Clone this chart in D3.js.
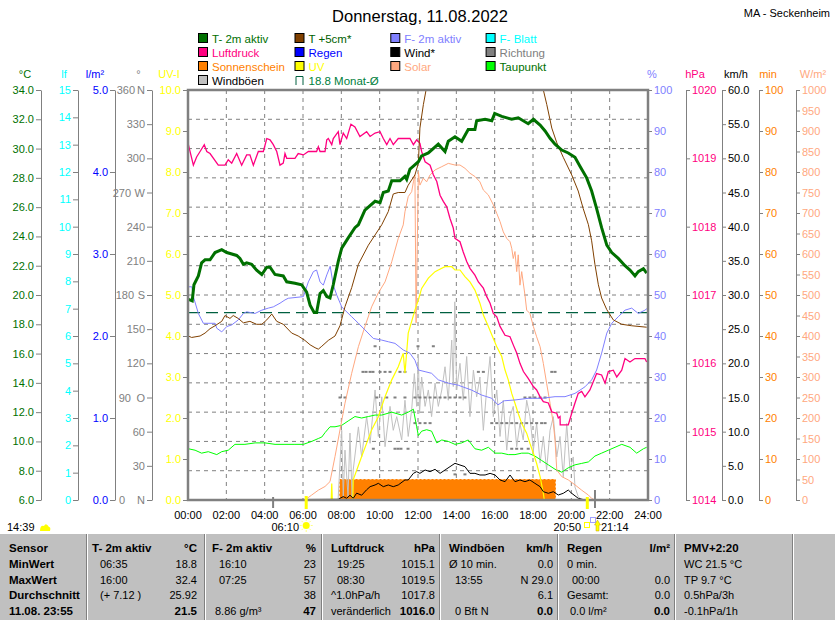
<!DOCTYPE html>
<html><head><meta charset="utf-8">
<script src="https://cdn.jsdelivr.net/npm/d3@7"></script>
<style>
body{margin:0;background:#fff;}
svg{display:block;font-family:"Liberation Sans",Arial,sans-serif;}
</style></head><body>
<svg id="c" width="835" height="620"></svg>
<script>
// ---------------- DATA (time in hours, value in axis units) ----------------
const hourTicks = [0,2,4,6,8,10,12,14,16,18,20,22,24];
const monthMean = 18.8;

const t2m = [[0.02,19.7],[0.22,19.6],[0.31,20.7],[0.54,21.3],[0.71,22.2],[0.89,22.4],[1.15,22.4],[1.41,22.9],[1.76,23.1],[2.02,22.9],[2.54,22.7],[2.71,22.5],[2.89,22.1],[3.06,22.2],[3.32,22.1],[3.58,21.7],[3.85,21.4],[4.11,21.9],[4.28,21.9],[4.54,21.4],[4.97,21.3],[5.15,20.9],[5.58,20.8],[5.93,20.7],[6.19,20.2],[6.37,19.3],[6.58,18.8],[6.71,18.8],[6.89,20.1],[7.06,20.3],[7.24,19.9],[7.41,19.8],[7.58,20.7],[7.84,22.3],[8.02,23.2],[8.36,23.9],[8.71,24.6],[8.89,24.8],[9.23,25.8],[9.76,26.4],[10.02,26.3],[10.19,27.0],[10.45,27.1],[10.63,27.8],[11.06,27.8],[11.32,28.1],[11.41,27.9],[11.58,28.6],[11.76,28.8],[12.02,29.1],[12.19,29.5],[12.54,29.7],[13.06,30.3],[13.41,29.8],[13.58,30.5],[13.93,30.8],[14.28,30.5],[14.62,31.3],[14.97,31.3],[15.06,31.9],[15.5,32.0],[15.85,31.9],[16.0,32.4],[16.37,32.2],[16.89,32.0],[17.23,32.1],[17.75,31.7],[18.02,32.0],[18.37,31.6],[18.63,31.2],[18.89,30.7],[19.15,30.3],[19.5,29.9],[19.84,29.7],[20.19,29.4],[20.45,28.8],[20.8,28.0],[21.06,27.1],[21.32,25.9],[21.58,24.6],[21.85,23.4],[22.11,22.9],[22.45,22.5],[22.8,22.0],[23.06,21.7],[23.32,21.3],[23.49,21.6],[23.76,21.8],[23.93,21.5]];

const t5cm = [[0.02,17.2],[0.19,17.1],[0.63,17.2],[0.89,17.4],[1.15,17.7],[1.41,17.9],[1.76,18.2],[1.93,18.6],[2.19,18.4],[2.36,18.6],[2.62,18.4],[2.89,18.1],[3.23,18.2],[3.58,18.0],[3.85,18.0],[4.11,18.3],[4.37,18.7],[4.63,18.2],[4.97,18.0],[5.41,17.4],[5.75,17.2],[6.1,16.9],[6.37,16.6],[6.63,16.4],[6.8,16.3],[6.98,16.5],[7.32,16.9],[7.67,17.2],[7.93,17.9],[8.19,19.2],[8.54,20.5],[8.89,22.1],[9.41,23.4],[9.76,24.1],[10.11,24.8],[10.45,25.7],[10.71,26.9],[10.97,27.0],[11.32,27.0],[11.49,27.5],[11.84,28.2],[12.02,29.0],[12.1,31.4],[12.28,33.0],[12.42,34.0],[13.0,37.5],[15.0,40.5],[17.0,39.0],[18.54,34.0],[18.72,33.0],[18.98,31.4],[19.24,30.4],[19.58,29.4],[20.02,28.2],[20.36,27.1],[20.62,25.9],[20.89,24.8],[21.06,23.7],[21.23,22.1],[21.41,20.7],[21.58,19.8],[21.85,19.0],[22.19,18.3],[22.63,18.0],[23.15,17.9],[23.93,17.8]];

const humidity = [[0.02,52.0],[0.2,52.0],[0.28,49.6],[0.54,45.5],[0.8,43.1],[1.41,43.1],[1.5,41.9],[1.76,41.0],[2.02,42.3],[2.28,42.7],[2.62,43.9],[2.89,45.5],[3.06,45.9],[3.5,45.5],[3.85,46.3],[4.19,46.8],[4.45,47.1],[4.8,48.0],[5.06,48.8],[5.23,49.2],[6.02,49.6],[6.28,53.2],[6.54,55.7],[6.71,56.1],[6.89,53.2],[7.06,52.4],[7.24,54.9],[7.42,57.0],[7.58,52.4],[7.76,50.0],[8.02,47.1],[8.19,46.3],[8.54,44.7],[8.89,43.1],[9.23,41.5],[9.67,39.4],[10.11,39.0],[10.45,38.6],[10.8,38.2],[11.23,36.6],[11.58,35.8],[11.84,34.1],[12.02,31.7],[12.37,31.3],[12.71,30.9],[13.06,29.3],[13.58,28.5],[14.1,28.0],[14.8,26.8],[15.32,25.6],[15.85,24.8],[16.17,23.2],[16.5,24.2],[17.06,24.4],[17.75,24.8],[18.45,24.8],[19.15,25.2],[19.67,25.2],[20.19,26.0],[20.71,27.6],[21.06,29.3],[21.32,31.7],[21.58,35.8],[21.85,40.7],[22.11,43.1],[22.45,44.7],[22.8,46.3],[23.15,46.8],[23.49,45.5],[23.84,46.3],[23.98,46.8]];

const pressure = [[0.02,1019.20],[0.28,1018.90],[0.45,1019.02],[0.63,1019.10],[0.85,1019.20],[0.98,1019.10],[1.15,1019.07],[1.58,1018.90],[1.93,1018.90],[2.1,1018.98],[2.28,1018.93],[2.54,1019.07],[2.8,1018.90],[3.06,1019.05],[3.23,1019.05],[3.41,1018.90],[3.67,1019.10],[3.93,1019.10],[4.11,1019.29],[4.28,1019.27],[4.45,1019.20],[4.63,1019.10],[4.8,1018.90],[4.97,1018.93],[5.06,1019.07],[5.15,1019.00],[5.58,1019.00],[5.75,1019.07],[6.02,1019.05],[6.28,1019.10],[6.71,1019.10],[6.8,1019.17],[6.89,1019.10],[7.15,1019.10],[7.24,1019.27],[7.32,1019.29],[7.5,1019.20],[7.58,1019.29],[7.84,1019.39],[7.93,1019.20],[8.1,1019.37],[8.28,1019.29],[8.5,1019.50],[8.71,1019.46],[8.97,1019.32],[9.32,1019.39],[9.5,1019.32],[9.76,1019.37],[10.02,1019.39],[10.19,1019.29],[10.37,1019.20],[10.54,1019.29],[10.71,1019.20],[10.97,1019.29],[11.58,1019.29],[11.76,1019.20],[11.93,1019.27],[12.1,1019.22],[12.19,1019.10],[12.37,1018.95],[12.63,1018.90],[12.8,1018.76],[12.98,1018.66],[13.15,1018.46],[13.32,1018.37],[13.5,1018.29],[13.67,1018.12],[13.84,1017.98],[13.93,1017.83],[14.19,1017.78],[14.36,1017.63],[14.54,1017.49],[14.71,1017.39],[14.97,1017.29],[15.15,1017.19],[15.41,1017.10],[15.58,1016.98],[15.76,1016.88],[15.93,1016.73],[16.11,1016.68],[16.28,1016.54],[16.54,1016.41],[16.8,1016.39],[16.97,1016.27],[17.15,1016.15],[17.32,1016.00],[17.5,1015.88],[17.75,1015.78],[18.02,1015.66],[18.19,1015.61],[18.37,1015.51],[18.54,1015.44],[18.8,1015.42],[18.98,1015.29],[19.24,1015.27],[19.32,1015.20],[19.41,1015.22],[19.42,1015.10],[19.84,1015.10],[20.02,1015.27],[20.19,1015.42],[20.36,1015.56],[20.54,1015.59],[20.71,1015.51],[20.97,1015.61],[21.32,1015.85],[21.58,1015.83],[21.76,1015.71],[21.93,1015.88],[22.19,1015.90],[22.37,1015.80],[22.63,1015.90],[22.8,1016.07],[23.06,1016.02],[23.32,1016.07],[23.84,1016.07],[23.93,1016.02]];

const dewpoint = [[0.02,9.5],[0.37,9.4],[0.71,9.2],[1.06,9.3],[1.5,9.1],[1.76,9.3],[2.1,9.4],[2.45,9.8],[2.97,9.8],[3.5,9.9],[4.02,9.9],[4.54,9.8],[5.06,9.8],[5.58,9.8],[6.02,9.8],[6.45,10.0],[6.8,10.2],[6.98,10.3],[7.15,10.6],[7.41,11.0],[7.67,11.0],[8.02,11.1],[8.36,11.4],[8.71,11.7],[9.06,11.6],[9.41,11.7],[9.76,11.8],[10.11,11.8],[10.63,12.0],[11.15,11.8],[11.49,12.0],[11.76,12.2],[11.93,11.0],[12.02,10.4],[12.19,10.7],[12.45,10.8],[12.71,10.7],[12.98,9.9],[13.24,10.1],[13.58,10.0],[13.93,9.8],[14.28,9.9],[14.62,10.1],[14.97,9.5],[15.32,9.4],[15.67,9.6],[16.02,9.2],[16.37,9.2],[16.71,9.1],[17.06,9.1],[17.41,9.2],[17.75,9.2],[18.1,9.0],[18.45,8.7],[18.8,8.4],[19.15,8.1],[19.5,7.9],[19.84,8.2],[20.19,8.4],[20.54,8.5],[20.89,8.6],[21.23,9.0],[21.58,9.2],[21.93,9.4],[22.28,9.6],[22.63,9.8],[23.06,9.6],[23.41,9.2],[23.76,9.5],[23.93,9.6]];

const solar = [[0,0],[6.1,0],[6.45,12],[6.8,24],[7.15,33],[7.41,45],[7.67,106],[7.93,171],[8.19,236],[8.54,309],[8.89,374],[9.23,423],[9.58,471],[9.93,505],[10.28,532],[10.63,581],[10.97,638],[11.23,671],[11.32,703],[11.49,740],[11.67,752],[11.76,776],[11.84,793],[11.9,432],[12.02,801],[12.1,768],[12.28,785],[12.45,776],[12.63,793],[12.89,805],[13.24,813],[13.58,821],[13.93,817],[14.19,817],[14.45,809],[14.71,797],[14.97,789],[15.23,776],[15.41,756],[15.67,744],[15.93,720],[16.11,699],[16.28,679],[16.45,654],[16.63,638],[16.8,630],[16.89,614],[16.97,589],[17.06,606],[17.15,557],[17.23,598],[17.32,524],[17.41,557],[17.58,500],[17.67,463],[17.84,455],[18.02,423],[18.19,398],[18.37,374],[18.54,333],[18.71,285],[18.89,236],[19.06,187],[19.15,146],[19.24,73],[19.5,57],[19.84,49],[20.19,37],[20.54,24],[20.89,12],[21.06,4],[21.23,0],[24,0]];

const uv = [[0,0],[7.47,0],[7.5,0.4],[7.53,0],[8.6,0],[8.62,0.49],[9.06,1.06],[9.58,1.71],[9.93,2.03],[10.28,2.52],[10.63,2.93],[10.97,3.25],[11.23,3.58],[11.32,3.09],[11.49,4.07],[11.84,4.63],[12.02,4.88],[12.19,5.16],[12.54,5.41],[12.89,5.57],[13.06,5.61],[13.41,5.69],[13.76,5.69],[13.93,5.61],[14.19,5.61],[14.45,5.45],[14.71,5.32],[14.97,5.12],[15.23,4.8],[15.41,4.51],[15.67,4.23],[15.93,3.94],[16.11,3.74],[16.37,3.5],[16.54,3.17],[16.71,2.93],[16.89,2.6],[17.06,2.36],[17.23,2.11],[17.41,1.87],[17.67,1.63],[17.84,1.38],[18.02,1.14],[18.19,0.89],[18.37,0.57],[18.54,0.16],[18.59,0],[24,0]];

const sunshine = [[0,0],[7.92,0],[7.92,5],[19.17,5],[19.17,0],[24,0]]; // minutes per 5 min

const wind = [[0,0],[7.84,0.1],[8.1,0.5],[8.28,0.25],[8.45,0.7],[8.62,0.25],[8.8,1.0],[9.06,0.7],[9.32,1.5],[9.5,1.95],[9.76,2.2],[9.93,2.44],[10.19,1.95],[10.45,2.2],[10.71,1.95],[10.97,2.2],[11.32,2.93],[11.49,2.93],[11.76,3.9],[11.93,4.15],[12.1,3.9],[12.37,4.39],[12.63,4.15],[12.89,4.49],[13.15,3.9],[13.41,4.39],[13.67,4.88],[13.93,5.37],[14.19,5.12],[14.45,4.88],[14.71,3.9],[14.97,3.9],[15.23,3.66],[15.5,3.66],[15.76,3.9],[16.02,3.66],[16.28,2.93],[16.54,2.68],[16.8,3.66],[17.06,2.68],[17.32,2.93],[17.58,2.68],[17.84,2.93],[18.1,2.44],[18.37,1.95],[18.54,1.22],[18.8,0.98],[19.06,1.22],[19.32,0.73],[19.58,0.98],[19.84,1.46],[20.02,0.98],[20.36,0.25],[20.71,0],[24,0]];

const gusts = [[7.83,0],[8.02,10.2],[8.1,0.5],[8.19,7.3],[8.35,0.5],[8.45,9.8],[8.56,0.5],[8.62,4.4],[8.89,10.7],[9.06,6.3],[9.32,12.2],[9.5,8.3],[9.76,16.1],[9.93,9.3],[10.11,15.1],[10.28,7.8],[10.54,13.7],[10.71,10.2],[10.89,12.2],[11.15,8.8],[11.32,14.6],[11.49,9.3],[11.67,13.2],[11.81,18.5],[11.93,13.7],[12.02,21.0],[12.08,12.7],[12.19,18.0],[12.37,13.7],[12.54,16.1],[12.71,12.2],[12.89,17.1],[13.06,13.7],[13.24,16.1],[13.41,19.5],[13.58,14.6],[13.76,23.4],[13.84,16.6],[13.92,29.0],[14.02,16.1],[14.19,20.0],[14.36,14.6],[14.54,21.0],[14.71,12.2],[14.89,19.0],[15.06,15.1],[15.23,18.0],[15.41,10.2],[15.58,16.1],[15.76,21.0],[15.93,12.2],[16.11,16.1],[16.28,9.3],[16.45,14.6],[16.63,7.3],[16.8,12.2],[16.97,13.7],[17.15,7.8],[17.32,11.2],[17.49,8.8],[17.67,14.6],[17.84,12.2],[18.02,7.3],[18.19,11.2],[18.37,5.4],[18.54,9.3],[18.71,4.4],[18.89,10.2],[19.06,12.2],[19.24,6.3],[19.41,9.3],[19.58,3.4],[19.76,11.2],[19.93,4.4],[20.1,6.3],[20.19,1.9],[20.36,0.5],[20.54,0]];

const direction = [[7.93,90],[8.19,90],[9.85,90],[10.37,90],[10.8,90],[11.32,90],[11.84,90],[12.1,90],[12.37,90],[12.63,90],[12.89,90],[13.15,90],[13.41,90],[13.67,90],[13.93,90],[14.19,90],[14.45,90],[17.58,90],[17.84,90],[18.1,90],[18.37,90],[18.63,90],
 [9.13,112.5],[9.29,112.5],[9.5,112.5],[9.65,112.5],[10.02,112.5],[10.28,112.5],[10.54,112.5],[11.06,112.5],[11.32,112.5],[15.15,112.5],[15.41,112.5],[18.98,112.5],[19.15,112.5],
 [9.67,45],[10.8,45],[10.96,45],[11.11,45],[11.48,45],[16.89,45],[17.15,45],[17.41,45],[17.75,45],
 [9.76,135],[12.0,135],[12.8,135],
 [11.84,67.5],[12.1,67.5],[12.37,67.5],[12.63,67.5],[15.85,67.5],[16.11,67.5],[16.37,67.5],[16.63,67.5],[16.89,67.5],[17.15,67.5],[17.41,67.5],[17.67,67.5],[17.93,67.5],[18.19,67.5],[18.45,67.5],[18.63,67.5],
 [13.93,22.5],[14.45,22.5]];

const legendItems = [
 {name:"T- 2m aktiv", box:"#007000", text:"#007000", col:0,row:0},
 {name:"T +5cm*", box:"#804000", text:"#006000", col:1,row:0},
 {name:"F- 2m aktiv", box:"#8080ff", text:"#8080ff", col:2,row:0},
 {name:"F- Blatt", box:"#00ffff", text:"#00ffff", col:3,row:0},
 {name:"Luftdruck", box:"#ff0080", text:"#ff0080", col:0,row:1},
 {name:"Regen", box:"#0000ff", text:"#0000ff", col:1,row:1},
 {name:"Wind*", box:"#000000", text:"#000000", col:2,row:1},
 {name:"Richtung", box:"#808080", text:"#808080", col:3,row:1},
 {name:"Sonnenschein", box:"#ff8000", text:"#ff8000", col:0,row:2},
 {name:"UV", box:"#ffff00", text:"#ffff00", col:1,row:2},
 {name:"Solar", box:"#ffa880", text:"#ffa880", col:2,row:2},
 {name:"Taupunkt", box:"#00ff00", text:"#007000", col:3,row:2},
 {name:"Windböen", box:"#c0c0c0", text:"#000000", col:0,row:3},
 {name:"18.8 Monat-Ø", box:null, text:"#008040", col:1,row:3}
];

const tableHeaders = ["Sensor","T- 2m aktiv","F- 2m aktiv","Luftdruck","Windböen","Regen","PMV+2:20"];
const tableUnits = ["°C","%","hPa","km/h","l/m²"];
const rowLabels = ["MinWert","MaxWert","Durchschnitt","11.08. 23:55"];
const tableLeftText = [
 ["06:35","16:10","19:25","Ø 10 min.","0 min.","WC 21.5 °C"],
 ["16:00","07:25","08:30","13:55","00:00","TP 9.7 °C"],
 ["(+ 7.12 )","","^1.0hPa/h","","Gesamt:","0.5hPa/3h"],
 ["","8.86 g/m³","veränderlich","0 Bft N","0.0 l/m²","-0.1hPa/1h"]];
const tableValues = [
 ["18.8","23","1015.1","0.0",""],
 ["32.4","57","1019.5","N 29.0","0.0"],
 ["25.92","38","1017.8","6.1","0.0"],
 ["21.5","47","1016.0","0.0","0.0"]];

// ---------------- LAYOUT ----------------
const svg = d3.select("#c");
const L=188,R=648,T=90,B=500;
const FONT='"Liberation Sans",Arial,sans-serif';
const x = d3.scaleLinear().domain([0,24]).range([L,R]);
const yT = d3.scaleLinear().domain([6,34]).range([B,T]);
const yLf = d3.scaleLinear().domain([0,15]).range([B,T]);
const yRain = d3.scaleLinear().domain([0,5]).range([B,T]);
const yDir = d3.scaleLinear().domain([0,360]).range([B,T]);
const yUV = d3.scaleLinear().domain([0,10]).range([B,T]);
const yHum = d3.scaleLinear().domain([0,100]).range([B,T]);
const yP = d3.scaleLinear().domain([1014,1020]).range([B,T]);
const yW = d3.scaleLinear().domain([0,60]).range([B,T]);
const yMin = d3.scaleLinear().domain([0,100]).range([B,T]);
const ySol = d3.scaleLinear().domain([0,1000]).range([B,T]);

const f1 = d3.format(".1f"), f0 = d=>String(d);

// title
svg.append("text").attr("x",420).attr("y",22).attr("text-anchor","middle")
 .attr("font-size",16.5).attr("font-family",FONT).text("Donnerstag, 11.08.2022");
svg.append("text").attr("x",830).attr("y",17).attr("text-anchor","end")
 .attr("font-size",11).attr("font-family",FONT).text("MA - Seckenheim");

// legend
const legX=[198,294.5,390.3,485.6], legY=[33,47,61,75];
legendItems.forEach(d=>{
  const bx=legX[d.col], by=legY[d.row];
  if(d.box){
    svg.append("rect").attr("x",bx+0.5).attr("y",by+0.5).attr("width",9).attr("height",9)
      .attr("fill",d.box).attr("stroke","#000").attr("stroke-width",1);
  } else {
    svg.append("path").attr("d",`M${bx+1.5},${by+10}V${by+1.5}H${bx+8.5}V${by+10}`)
      .attr("fill","none").attr("stroke","#006040").attr("stroke-width",1);
  }
  svg.append("text").attr("x",bx+14).attr("y",by+9.5).attr("font-size",11.5)
    .attr("font-family",FONT).attr("fill",d.text).text(d.name);
});

// grid
const grid = svg.append("g").attr("stroke","#808080").attr("stroke-dasharray","4,4").attr("stroke-width",1);
hourTicks.slice(1,-1).forEach(h=>grid.append("line").attr("x1",x(h)).attr("x2",x(h)).attr("y1",T).attr("y2",B));
d3.range(8,34,2).forEach(v=>grid.append("line").attr("x1",L).attr("x2",R).attr("y1",yT(v)).attr("y2",yT(v)));

// axes
function styleAxis(g,color){
  g.attr("font-size",11).attr("font-family",FONT);
  g.selectAll("path").attr("stroke","#808080");
  g.selectAll("line").attr("stroke","#808080");
  g.selectAll("text").attr("fill",color);
}
const leftAxes = [
 {pos:41, s:yT, ticks:d3.range(6,34.1,2), fmt:f1, color:"#007000", title:"°C", tx:25},
 {pos:78, s:yLf, ticks:d3.range(0,16,1), fmt:f0, color:"#00ffff", title:"lf", tx:64},
 {pos:115, s:yRain, ticks:d3.range(0,6,1), fmt:f1, color:"#0000ff", title:"l/m²", tx:95},
 {pos:152, s:yDir, ticks:d3.range(0,361,30), fmt:f0, color:"#808080", title:"°", tx:138.5, dir:true},
 {pos:188, s:yUV, ticks:d3.range(0,11,1), fmt:f1, color:"#ffff00", title:"UV-I", tx:169}
];
const compass = {0:"N",90:"O",180:"S",270:"W",360:"N"};
const compassNumEnd = {0:-27,90:-21,180:-18,270:-21,360:-17};
leftAxes.forEach(a=>{
  const g = svg.append("g").attr("transform",`translate(${a.pos},0)`)
   .call(d3.axisLeft(a.s).tickValues(a.ticks).tickFormat(a.fmt).tickSize(5).tickSizeOuter(0).tickPadding(2));
  styleAxis(g,a.color);
  if(a.dir){
    g.selectAll(".tick").each(function(d){
      if(compass[d]!==undefined){
        const t=d3.select(this).select("text");
        t.text(compass[d]);
        d3.select(this).append("text").attr("x",compassNumEnd[d]).attr("dy","0.32em").attr("text-anchor","end")
          .attr("fill",a.color).text(d);
      }
    });
  }
  svg.append("text").attr("x",a.tx).attr("y",78).attr("text-anchor","middle").attr("font-size",11)
   .attr("font-family",FONT).attr("fill",a.color).text(a.title);
});
const rightAxes = [
 {pos:648, s:yHum, ticks:d3.range(0,101,10), fmt:f0, color:"#8080ff", title:"%", tx:652},
 {pos:686, s:yP, ticks:d3.range(1014,1021,1), fmt:f0, color:"#ff0080", title:"hPa", tx:695},
 {pos:722, s:yW, ticks:d3.range(0,61,5), fmt:f1, color:"#000000", title:"km/h", tx:736},
 {pos:759, s:yMin, ticks:d3.range(0,101,10), fmt:f0, color:"#ff8000", title:"min", tx:768},
 {pos:796, s:ySol, ticks:d3.range(0,1001,50), fmt:f0, color:"#ffa880", title:"W/m²", tx:813}
];
rightAxes.forEach(a=>{
  const g = svg.append("g").attr("transform",`translate(${a.pos},0)`)
   .call(d3.axisRight(a.s).tickValues(a.ticks).tickFormat(a.fmt).tickSize(4).tickSizeOuter(0).tickPadding(2));
  styleAxis(g,a.color);
  svg.append("text").attr("x",a.tx).attr("y",78).attr("text-anchor","middle").attr("font-size",11)
   .attr("font-family",FONT).attr("fill",a.color).text(a.title);
});

// x axis labels
hourTicks.forEach(h=>{
  svg.append("text").attr("x",x(h)).attr("y",518.5).attr("text-anchor","middle").attr("font-size",11)
   .attr("font-family",FONT).text(d3.format("02")(h)+":00");
});

// clip
svg.append("defs").append("clipPath").attr("id","clip").append("rect")
 .attr("x",L).attr("y",T).attr("width",R-L).attr("height",B-T);
const plot = svg.append("g").attr("clip-path","url(#clip)");

const line = (ys)=>d3.line().x(d=>x(d[0])).y(d=>ys(d[1]));
// sunshine
plot.append("path").datum(sunshine)
 .attr("d",d3.area().x(d=>x(d[0])).y0(B).y1(d=>yMin(d[1])))
 .attr("fill","#ff8000").attr("stroke","#ff8000").attr("stroke-width",1).attr("stroke-dasharray","2,2");
// month mean
plot.append("line").attr("x1",L).attr("x2",R).attr("y1",yT(monthMean)).attr("y2",yT(monthMean))
 .attr("stroke","#006040").attr("stroke-width",1.3).attr("stroke-dasharray","12,6");
// gusts
plot.append("path").datum(gusts).attr("d",line(yW)).attr("fill","none").attr("stroke","#c0c0c0").attr("stroke-width",1);
// direction
plot.selectAll(".dir").data(direction).join("rect").attr("x",d=>x(d[0])-1.5).attr("y",d=>yDir(d[1])-1)
 .attr("width",3).attr("height",2).attr("fill","#808080");
// dew point
plot.append("path").datum(dewpoint).attr("d",line(yT)).attr("fill","none").attr("stroke","#00ff00").attr("stroke-width",1);
// solar
plot.append("path").datum(solar).attr("d",line(ySol)).attr("fill","none").attr("stroke","#ffa880").attr("stroke-width",1);
// uv
plot.append("path").datum(uv).attr("d",line(yUV)).attr("fill","none").attr("stroke","#ffff00").attr("stroke-width",1.2);
// humidity
plot.append("path").datum(humidity).attr("d",line(yHum)).attr("fill","none").attr("stroke","#8080ff").attr("stroke-width",1);
// pressure
plot.append("path").datum(pressure).attr("d",line(yP)).attr("fill","none").attr("stroke","#ff0080").attr("stroke-width",1.3);
// wind
plot.append("path").datum(wind).attr("d",line(yW)).attr("fill","none").attr("stroke","#000").attr("stroke-width",1);
// T 5cm
plot.append("path").datum(t5cm).attr("d",line(yT)).attr("fill","none").attr("stroke","#804000").attr("stroke-width",1);
// T 2m
plot.append("path").datum(t2m).attr("d",line(yT)).attr("fill","none").attr("stroke","#007000").attr("stroke-width",3);

// frame
svg.append("rect").attr("x",L).attr("y",T).attr("width",R-L).attr("height",B-T)
 .attr("fill","none").attr("stroke","#808080").attr("stroke-width",2.5);

// sun / moon markers
const marks = [{t:4.44,c:"#808080",w:2,y1:497,y2:508},{t:6+10/60,c:"#ffff00",w:3,y1:496,y2:509},
               {t:20+50/60,c:"#ffff00",w:3,y1:497,y2:509},{t:21+14/60,c:"#808080",w:2,y1:490,y2:508}];
marks.forEach(m=>svg.append("line").attr("x1",x(m.t)).attr("x2",x(m.t)).attr("y1",m.y1).attr("y2",m.y2)
  .attr("stroke",m.c).attr("stroke-width",m.w));
const small = (tx,ty,txt,anchor)=>svg.append("text").attr("x",tx).attr("y",ty).attr("text-anchor",anchor||"start")
  .attr("font-size",11).attr("font-family",FONT).text(txt);
small(7,531,"14:39");
svg.append("path").attr("d","M40,531 Q40,525 44,526 Q46,522 49,527 Q51,527 50,531 Z").attr("fill","#ffff00");
small(299,530.5,"06:10","end");
const sx=x(6+10/60), sy=525.5;
svg.append("circle").attr("cx",sx).attr("cy",sy).attr("r",3.5).attr("fill","#ffff00");
d3.range(0,360,45).forEach(a=>{const r=a*Math.PI/180;
  svg.append("line").attr("x1",sx+Math.cos(r)*4.5).attr("y1",sy+Math.sin(r)*4.5).attr("x2",sx+Math.cos(r)*6.5).attr("y2",sy+Math.sin(r)*6.5)
   .attr("stroke","#ffff80").attr("stroke-width",1);});
small(581,530.5,"20:50","end");
svg.append("rect").attr("x",584.5).attr("y",522.5).attr("width",5).attr("height",5).attr("fill","none").attr("stroke","#ffff00");
svg.append("rect").attr("x",590.5).attr("y",517.5).attr("width",5).attr("height",5).attr("fill","none").attr("stroke","#4040ff").attr("stroke-dasharray","1,1");
svg.append("path").attr("d","M596,531 L596,525 L594.5,525 L597.5,520 L600.5,525 L599,525 L599,531 Z").attr("fill","#ffff00").attr("stroke","#c0a000").attr("stroke-width",0.5);
small(601,530.5,"21:14");

// table
const tb = svg.append("g");
tb.append("rect").attr("x",0).attr("y",533).attr("width",835).attr("height",87).attr("fill","#c0c0c0");
tb.append("line").attr("x1",0).attr("x2",835).attr("y1",533.5).attr("y2",533.5).attr("stroke","#fff");
const seps=[87,205,322,440,558,675,793];
seps.forEach(s=>{
  tb.append("line").attr("x1",s-0.5).attr("x2",s-0.5).attr("y1",534).attr("y2",620).attr("stroke","#808080");
  tb.append("line").attr("x1",s+0.5).attr("x2",s+0.5).attr("y1",534).attr("y2",620).attr("stroke","#ffffff");
});
const rowY=[552,567.5,583.5,599,614.5];
const colX=[9,92,212,331,449,567,684];
const colR=[197,316,435,553,670];
const leftX=[[100,219,337,449,567,684],[100,219,337,455,572,684],[100,219,331,455,567,684],[100,215,331,455,570,684]];
const tt=(xx,yy,txt,bold,anchor)=>tb.append("text").attr("x",xx).attr("y",yy).attr("font-size",bold?11.5:11)
  .attr("font-weight",bold?"bold":"normal").attr("font-family",FONT).attr("text-anchor",anchor||"start").text(txt);
tableHeaders.forEach((h,i)=>tt(colX[i],rowY[0],h,true));
tableUnits.forEach((u,i)=>tt(colR[i],rowY[0],u,true,"end"));
rowLabels.forEach((r,i)=>tt(colX[0],rowY[i+1],r,true));
tableLeftText.forEach((row,i)=>row.forEach((v,j)=>{ if(v) tt(leftX[i][j],rowY[i+1],v,false); }));
tableValues.forEach((row,i)=>row.forEach((v,j)=>{ if(v) tt(colR[j],rowY[i+1],v,i===3,"end"); }));
</script>
</body></html>
